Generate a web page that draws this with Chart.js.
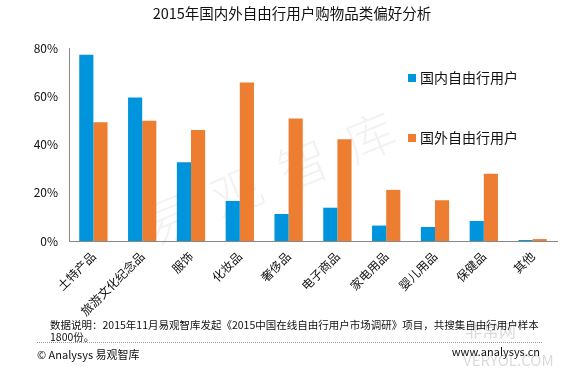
<!DOCTYPE html>
<html lang="zh">
<head>
<meta charset="UTF-8">
<script src="https://cdn.jsdelivr.net/npm/chart.js"></script>
<title>2015年国内外自由行用户购物品类偏好分析</title>
<style>
  html, body { margin: 0; padding: 0; background: #fff; }
  #wrap { width: 580px; height: 372px; position: relative; }
</style>
</head>
<body>
<div id="wrap"><canvas id="chart" width="580" height="372"></canvas></div>
<script>
const categories = ['土特产品', '旅游文化纪念品', '服饰', '化妆品', '奢侈品', '电子商品', '家电用品', '婴儿用品', '保健品', '其他'];
const domestic = [77.2, 59.5, 32.6, 16.6, 11.2, 13.8, 6.4, 5.8, 8.3, 0.4];
const overseas = [49.2, 49.8, 46.0, 65.7, 50.8, 42.2, 21.2, 16.9, 27.9, 0.8];
const seriesNames = ['国内自由行用户', '国外自由行用户'];
const yTicks = [0, 20, 40, 60, 80];

const FONT = '"Noto Sans CJK SC", "Noto Sans", sans-serif';

// title, watermark, legend and footer notes
const decor = {
  id: 'decor',
  beforeDatasetsDraw(chart) {
    const ctx = chart.ctx;
    ctx.save();
    ctx.translate(270, 178);
    ctx.rotate(-0.39);
    ctx.font = '300 50px ' + FONT;
    ctx.fillStyle = 'rgba(0,0,0,0.05)';
    ctx.textAlign = 'center';
    ctx.textBaseline = 'middle';
    ['易', '观', '智', '库'].forEach((c, i) => ctx.fillText(c, (i - 1.5) * 72, 0));
    ctx.restore();
  },
  afterDraw(chart) {
    const ctx = chart.ctx;
    ctx.save();
    ctx.fillStyle = '#111';
    ctx.font = '14.5px ' + FONT;
    ctx.textAlign = 'center';
    ctx.textBaseline = 'middle';
    ctx.fillText('2015年国内外自由行用户购物品类偏好分析', 292, 13);

    // legend
    const legY = [78, 138];
    chart.data.datasets.forEach((ds, i) => {
      ctx.fillStyle = ds.backgroundColor;
      ctx.fillRect(408, legY[i] - 4, 8, 8);
      ctx.fillStyle = '#111';
      ctx.font = '14px ' + FONT;
      ctx.textAlign = 'left';
      ctx.fillText(ds.label, 420, legY[i]);
    });

    // footer
    ctx.fillStyle = '#111';
    ctx.font = '10.5px ' + FONT;
    ctx.textAlign = 'left';
    ctx.fillText('数据说明：2015年11月易观智库发起《2015中国在线自由行用户市场调研》项目，共搜集自由行用户样本', 50, 325);
    ctx.fillText('1800份。', 50, 337);

    ctx.strokeStyle = '#999';
    ctx.lineWidth = 1;
    ctx.setLineDash([1, 1]);
    ctx.beginPath();
    ctx.moveTo(37, 342.5);
    ctx.lineTo(543, 342.5);
    ctx.stroke();
    ctx.setLineDash([]);

    ctx.fillStyle = 'rgba(0,0,0,0.15)';
    ctx.font = '17px ' + FONT;
    ctx.fillText('非常网', 465, 331);
    ctx.font = '15px ' + FONT;
    ctx.fillText('VERYOL.COM', 463, 360);

    ctx.fillStyle = '#111';
    ctx.font = '11px ' + FONT;
    ctx.fillText('© Analysys 易观智库', 37, 355);
    ctx.textAlign = 'right';
    ctx.fillText('www.analysys.cn', 540, 352);
    ctx.restore();
  }
};

new Chart(document.getElementById('chart'), {
  type: 'bar',
  data: {
    labels: categories,
    datasets: [
      { label: seriesNames[0], data: domestic, backgroundColor: '#0094dc' },
      { label: seriesNames[1], data: overseas, backgroundColor: '#ed7d31' }
    ]
  },
  options: {
    responsive: false,
    animation: false,
    devicePixelRatio: 1,
    layout: { padding: { left: 0, right: 23, top: 48, bottom: 0 } },
    plugins: {
      legend: { display: false },
      title: { display: false },
      tooltip: { enabled: false }
    },
    datasets: { bar: { categoryPercentage: 0.58, barPercentage: 1.0 } },
    scales: {
      x: {
        grid: { display: false, drawTicks: false },
        border: { color: '#888', width: 1 },
        afterFit(scale) { scale.height = 131; },
        ticks: {
          color: '#111',
          font: { family: FONT, size: 12 },
          minRotation: 45,
          maxRotation: 45,
          padding: 8,
          autoSkip: false
        }
      },
      y: {
        min: 0,
        max: 80,
        afterFit(scale) { scale.width = 69; },
        afterBuildTicks(scale) { scale.ticks = yTicks.map(v => ({ value: v })); },
        grid: { display: false, drawTicks: false },
        border: { color: '#888', width: 1 },
        ticks: {
          color: '#111',
          font: { family: FONT, size: 12 },
          padding: 11,
          callback: v => v + '%'
        }
      }
    }
  },
  plugins: [decor]
});
</script>
</body>
</html>
